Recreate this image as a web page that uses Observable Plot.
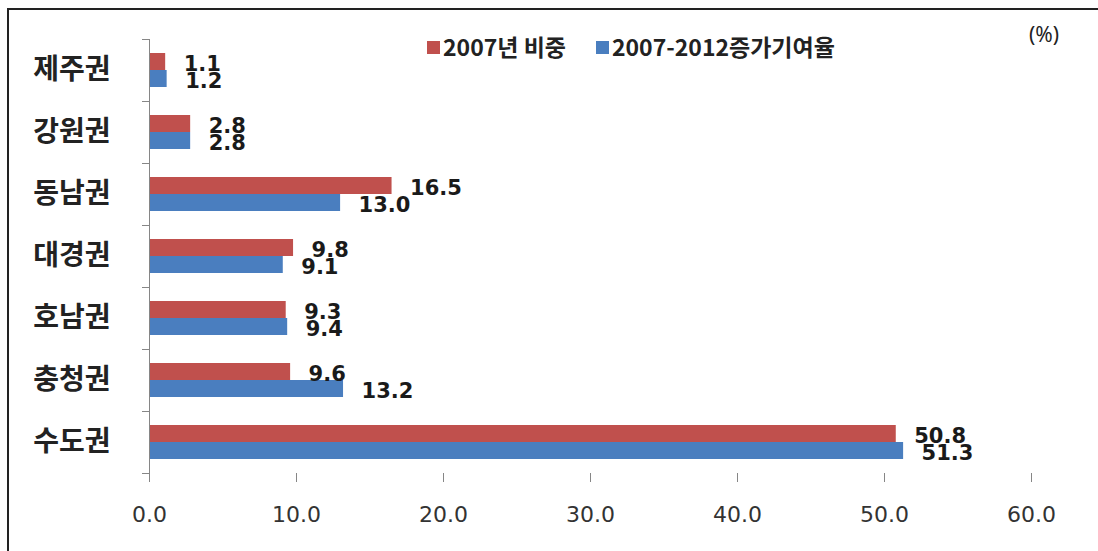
<!DOCTYPE html>
<html>
<head>
<meta charset="utf-8">
<script src="https://cdn.jsdelivr.net/npm/d3@7"></script>
<script src="https://cdn.jsdelivr.net/npm/@observablehq/plot@0.6"></script>
<style>
  body { margin: 0; background: #fff; }
  #wrap { position: relative; width: 1098px; height: 551px; overflow: hidden; background: #fff; }
  #chart { position: absolute; left: 0; top: 0; }
  .fl { position: absolute; background: #222; }
  #legend { position: absolute; left: 427px; top: 29px; display: flex; align-items: center;
            font-family: "Noto Sans CJK KR", sans-serif; font-weight: bold; font-size: 23px; color: #222; white-space: nowrap; }
  #legend .item { display: flex; align-items: center; margin-right: 30px; }
  #legend .sw { width: 13px; height: 13px; margin-right: 3px; margin-top: 2px; }
  #unit { position: absolute; left: 1029px; top: 20px; font-family: "Noto Sans", sans-serif; font-size: 21px; color: #222; }
</style>
</head>
<body>
<div id="wrap">
  <div id="chart"></div>
  <div class="fl" style="left:7px;top:8px;width:2px;height:543px"></div>
  <div class="fl" style="left:7px;top:8px;width:1091px;height:2px"></div>
  <div id="legend"></div>
  <div id="unit">(%)</div>
</div>
<script>
const regions = ["제주권", "강원권", "동남권", "대경권", "호남권", "충청권", "수도권"];
const series = ["2007년 비중", "2007-2012증가기여율"];
const share2007 = [1.1, 2.8, 16.5, 9.8, 9.3, 9.6, 50.8];
const contrib = [1.2, 2.8, 13.0, 9.1, 9.4, 13.2, 51.3];
const xTicks = [0, 10, 20, 30, 40, 50, 60];
const colors = ["#C0504D", "#4A7EBF"];

const rows = [];
regions.forEach((r, i) => {
  rows.push({region: r, series: series[0], value: share2007[i]});
  rows.push({region: r, series: series[1], value: contrib[i]});
});

const W = 1098, H = 551, mL = 149, mR = 67, mT = 37, mB = 76;
const plotW = W - mL - mR;
const axisColor = "#868686";

const chart = Plot.plot({
  width: W, height: H,
  marginLeft: mL, marginRight: mR, marginTop: mT, marginBottom: mB,
  style: {background: "transparent", overflow: "visible"},
  x: {domain: [0, 60]},
  y: {domain: series, axis: null, paddingInner: 0, paddingOuter: 0.786},
  fy: {domain: regions, padding: 0, label: null},
  color: {domain: series, range: colors},
  marks: [
    Plot.barX(rows, {fy: "region", y: "series", x: "value", fill: "series"}),
    Plot.frame({anchor: "left", stroke: axisColor}),
    Plot.frame({anchor: "top", stroke: axisColor, insetLeft: -7, insetRight: plotW}),
    Plot.frame({anchor: "bottom", stroke: axisColor, insetLeft: -7, insetRight: plotW}),
    Plot.text(rows, {
      fy: "region", y: "series", x: "value",
      text: d => d.value.toFixed(1),
      textAnchor: "start", dx: 18, dy: 2,
      fontSize: 21, fontWeight: "bold", fontFamily: "DejaVu Sans", fill: "#1a1a1a"
    }),
    Plot.axisX({ticks: xTicks, text: null, tickSize: 9, stroke: axisColor, line: true, label: null}),
    Plot.axisX({ticks: xTicks, tickSize: 0, tickPadding: 33, tickFormat: d => d.toFixed(1),
      fontSize: 22, fontFamily: "DejaVu Sans", fill: "#333", label: null}),
    Plot.axisFy({anchor: "left", tickSize: 0, tickPadding: 39, label: null,
      fontSize: 28, fontWeight: "bold", fontFamily: "Noto Sans CJK KR", fill: "#222"})
  ]
});
document.getElementById("chart").appendChild(chart);

const legend = document.getElementById("legend");
series.forEach((s, i) => {
  const item = document.createElement("div");
  item.className = "item";
  const sw = document.createElement("div");
  sw.className = "sw";
  sw.style.background = colors[i];
  const t = document.createElement("span");
  t.textContent = s;
  item.appendChild(sw);
  item.appendChild(t);
  legend.appendChild(item);
});
</script>
</body>
</html>
